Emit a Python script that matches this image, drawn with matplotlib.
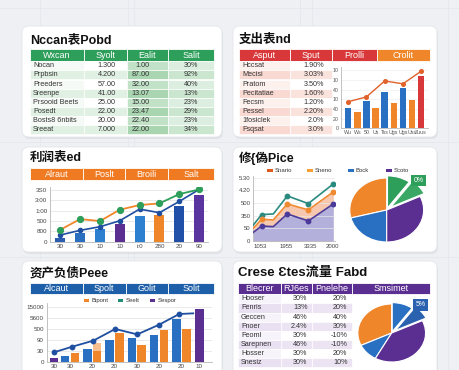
import matplotlib
matplotlib.use('Agg')
import matplotlib.pyplot as plt
from matplotlib.patches import FancyBboxPatch, Rectangle
import numpy as np

# 字体：拉丁字用 Liberation，中文回退到 Noto CJK
plt.rcParams['font.family'] = ['Liberation Sans', 'Noto Sans CJK SC', 'DejaVu Sans']

W, H = 460, 370

# ---------------- 数据 ----------------
# 面板1：绿色表格
t1_title = 'Nccan表Pobd'
t1_header = ['Wxcan', 'Syolt', 'Ealit', 'Salit']
t1_labels = ['Nocan', 'Prpbsin', 'Preeders', 'Sreenpe', 'Prsooid Beets', 'Posedt', 'Bosts8 6nbits', 'Sreeat']
t1_col2 = ['1.300', '4.200', '57.00', '41.00', '25.00', '22.00', '20.00', '7.000']
t1_col3 = ['1.00', '87.00', '32.00', '13.07', '15.00', '23.47', '22.40', '22.00']
t1_col4 = ['30%', '92%', '40%', '13%', '23%', '29%', '23%', '34%']

# 面板2：支出表
t2_title = '支出表nd'
t2_header = ['Asput', 'Sput', 'Prolli', 'Crolit']
t2_labels = ['Hccsat', 'Mecisi', 'Pratom', 'Pecitatiae', 'Fecsm', 'Pessel', '1fosiclek', 'Fsqsat']
t2_values = ['1.90%', '3.03%', '3.50%', '1.60%', '1.20%', '2.20%', '2.0%', '3.0%']
t2_xlabels = ['Wu', 'Ws', '50', 'Us', 'Tss', 'Ugs', 'Ugs', 'Uss', 'Zuus']
t2_bars = [43, 34, 57, 43, 76, 53, 84, 58, 109]
t2_line_idx = [0, 2, 4, 6, 8]
t2_line = [55, 65, 98, 92, 118]
t2_yticks = [0, 20, 40, 60, 80, 100, 120]
t2_ylabels = ['0', '20', '40', '10', '40', '10', '10']

# 面板3：利润表
t3_title = '利润表ed'
t3_header = ['Alraut', 'Poslt', 'Broili', 'Salt']
t3_xlabels = ['30', '30', '10', '10', 'i:0', '280', '20', '90']
t3_bars = [32, 81, 119, 174, 252, 255, 342, 448]
t3_line_blue = [65, 110, 145, 203, 316, 281, 390, 506]
t3_line_top = [116, 219, 200, 310, 355, 371, 461, 506]
t3_yticks = [0, 100, 200, 300, 400, 500]
t3_ylabels = ['0', '800', '500', '1:00', '3:00', '3S0']

# 面板4：面积图 + 饼图
t4_title = '修{偽Pice'
t4_legend = ['Snario', 'Sneno', 'Bock', 'Scoto']
t4_x = [0, 25, 60, 102, 165, 240]
t4_teal = [126, 208, 213, 355, 295, 450]
t4_orange = [100, 171, 166, 292, 245, 387]
t4_purple = [68, 118, 113, 213, 158, 292]
t4_xticks = [22, 100, 170, 236]
t4_xlabels = ['1053', '1955', '3335', '2000']
t4_yticks = [0, 100, 200, 300, 400, 500]
t4_ylabels = ['0', '50', '350', '500', '4.20', '5.30']
t4_pie = [29, 21, 32, 8, 10]
t4_pie_label = '0%'

# 面板5：资产负债
t5_title = '资产负债Peee'
t5_header = ['Alcaut', 'Spolt', 'Golit', 'Solit']
t5_legend = ['Bipont', 'Seelt', 'Sespor']
t5_blue = [55, 115, 197, 218, 239, 388]
t5_orange = [76, 100, 258, 148, 288, 297]
t5_orange_peak = [76, 173, 258, 148, 288, 297]
t5_purple = [30, 476]
t5_line_x = [-0.72, 0.1, 1.05, 2.03, 3.02, 4.0, 4.9, 5.53]
t5_line = [85, 136, 191, 297, 248, 336, 433, 439]
t5_xticks = [-0.72, 0, 1, 2, 3, 4, 5, 5.8]
t5_xlabels = ['30', '30', '20', '20', '30', '20', '20', '10']
t5_yticks = [0, 100, 200, 300, 400, 500]
t5_ylabels = ['0', '30', '90', '500', '5600', '15000']

# 面板6：现金流量
t6_title = 'Crese Ɛtes流量 Fabd'
t6_header = ['Blecrer', 'RJ6es', 'Pnelehe', 'Smsimet']
t6_labels = ['Hooser', 'Fenris', 'Geccen', 'Fnoer', 'Feoml', 'Sarepnen', 'Hosser', 'Snesiz']
t6_col2 = ['30%', '13%', '46%', '2.4%', '30%', '46%', '30%', '30%']
t6_col3 = ['20%', '20%', '40%', '30%', '-10%', '-10%', '20%', '10%']
t6_pie = [32, 10, 40, 8, 10]
t6_pie_label = '5%'

# 颜色
GREEN = '#2e9e5b'
RED = '#d8383a'
ORANGE = '#f0862a'
BLUE = '#2a70c2'
DBLUE = '#1f4fa0'
PURPLE = '#5b2e91'
TEAL = '#2a8a80'

fig = plt.figure(figsize=(4.6, 3.7), dpi=100)
fig.patch.set_facecolor('#eef0f3')

bg = fig.add_axes([0, 0, 1, 1])
bg.set_xlim(0, W)
bg.set_ylim(H, 0)
bg.axis('off')


def px_axes(x0, y0, x1, y1):
    # 像素坐标 -> figure 坐标
    return fig.add_axes([x0 / W, 1 - y1 / H, (x1 - x0) / W, (y1 - y0) / H])


# 背景上的淡线
for x in [40, 128, 134, 300, 312, 448]:
    bg.plot([x, x], [0, H], color='#e5e8ec', lw=0.7, zorder=0)
for y in [8, 142, 257]:
    bg.plot([0, W], [y, y], color='#e5e8ec', lw=0.7, zorder=0)


def card(x0, y0, x1, y1):
    bg.add_patch(FancyBboxPatch((x0 + 1, y0 + 2), x1 - x0, y1 - y0,
                                boxstyle='round,pad=0,rounding_size=7',
                                fc='#c3c7ce', ec='none', alpha=0.35, zorder=1))
    bg.add_patch(FancyBboxPatch((x0, y0), x1 - x0, y1 - y0,
                                boxstyle='round,pad=0,rounding_size=7',
                                fc='white', ec='#e4e6ea', lw=0.6, zorder=2))


def header(edges, y0, y1, labels, colors, fs=6.5):
    for i, lab in enumerate(labels):
        bg.add_patch(Rectangle((edges[i], y0), edges[i + 1] - edges[i], y1 - y0,
                               fc=colors[i], ec='white', lw=0.6, zorder=3))
        bg.text((edges[i] + edges[i + 1]) / 2, (y0 + y1) / 2 + 0.3, lab, color='white',
                fontsize=fs, ha='center', va='center', zorder=4)


def title(x, y, s, fs=9):
    bg.text(x, y, s, fontsize=fs, fontweight='bold', ha='left', va='center',
            color='#111111', zorder=4)


def cell(x0, x1, y0, h, color):
    bg.add_patch(Rectangle((x0, y0), x1 - x0, h, fc=color, ec='white', lw=0.5, zorder=3))


def txt(x, y, s, ha='left', fs=5.2):
    bg.text(x, y, s, fontsize=fs, ha=ha, va='center', color='#333333', zorder=4)


# ---------------- 卡片 ----------------
card(22, 26, 222, 137)
card(233, 26, 437, 137)
card(22, 147, 222, 252)
card(233, 147, 437, 252)
card(22, 261, 222, 385)
card(233, 261, 437, 385)

# ---------------- 面板1 ----------------
title(30, 40, t1_title)
e1 = [30, 84.3, 126.7, 168.3, 214]
header(e1, 48.7, 61.3, t1_header, [GREEN] * 4)
rh = 9.1
for i in range(len(t1_labels)):
    y0 = 61.3 + i * rh
    odd = i % 2 == 1
    cell(e1[0], e1[1], y0, rh, '#e0f0e3' if odd else '#f6faf6')
    cell(e1[1], e1[2], y0, rh, '#e0f0e3' if odd else '#ffffff')
    cell(e1[2], e1[3], y0, rh, '#a9d5b1' if odd else '#c2e2c8')
    cell(e1[3], e1[4], y0, rh, '#cbe6cf' if odd else '#dbeedf')
    yc = y0 + rh / 2
    txt(33, yc, t1_labels[i])
    txt(116, yc, t1_col2[i], ha='right')
    txt(150, yc, t1_col3[i], ha='right')
    txt(191, yc, t1_col4[i], ha='center')

# ---------------- 面板2 ----------------
title(239, 40, t2_title)
e2 = [239, 290, 331.7, 376.7, 430]
header(e2, 48.7, 61.3, t2_header, [RED, RED, RED, ORANGE])
for i in range(len(t2_labels)):
    y0 = 61.3 + i * rh
    odd = i % 2 == 1
    cell(e2[0], e2[1], y0, rh, '#f9d9d1' if odd else '#fdf1ee')
    cell(e2[1], e2[2], y0, rh, '#fbe3dd' if odd else '#ffffff')
    yc = y0 + rh / 2
    txt(242, yc, t2_labels[i])
    txt(324, yc, t2_values[i], ha='right')

ax2 = px_axes(341, 67, 428, 128.3)
x2 = np.arange(len(t2_bars))
c2 = [BLUE, ORANGE] * 4 + [RED]
ax2.bar(x2, t2_bars, width=0.7, color=c2, zorder=2)
ax2.plot(x2[t2_line_idx], t2_line, color='#e0612a', lw=1.0, marker='o', ms=2.6, zorder=3)
ax2.set_xlim(-0.8, 8.76)
ax2.set_ylim(0, 126.8)
ax2.set_yticks(t2_yticks)
ax2.set_yticklabels(t2_ylabels)
ax2.set_xticks(x2)
ax2.set_xticklabels(t2_xlabels)
ax2.tick_params(labelsize=3.8, length=0, pad=1.5, colors='#555555')
ax2.grid(axis='y', color='#eeeeee', lw=0.5, zorder=0)

# ---------------- 面板3 ----------------
title(30, 158, t3_title)
e3 = [30, 82.7, 125.3, 168.3, 214]
header(e3, 167.7, 180, t3_header, ['#ef7a22'] * 4)

ax3 = px_axes(50, 187, 208, 241.7)
x3 = np.arange(len(t3_bars))
c3 = ['#2a5db0', '#2a6ebf', '#2d80d0', PURPLE, '#2d80d0', ORANGE, '#2150a8', '#5a35a0']
ax3.bar(x3, t3_bars, width=0.5, color=c3, zorder=2)
ax3.plot(x3, t3_line_blue, color=DBLUE, lw=1.2, marker='o', ms=3, zorder=3)
ax3.plot(x3[:6], t3_line_top[:6], color=ORANGE, lw=1.3, zorder=3)
ax3.plot(x3[5:], t3_line_top[5:], color=GREEN, lw=1.3, zorder=3)
ax3.plot(x3, t3_line_top, color=GREEN, lw=0, marker='o', ms=4.2, zorder=4)
ax3.set_xlim(-0.52, 7.45)
ax3.set_ylim(0, 530)
ax3.set_yticks(t3_yticks)
ax3.set_yticklabels(t3_ylabels)
ax3.set_xticks(x3)
ax3.set_xticklabels(t3_xlabels)
ax3.tick_params(labelsize=4.5, length=0, pad=2, colors='#444444')
ax3.grid(axis='y', color='#e6e6e6', lw=0.6, zorder=0)

# ---------------- 面板4 ----------------
title(239, 158, t4_title)
leg4_x = [267, 307, 348, 386]
leg4_c = ['#e05a20', '#f5a030', BLUE, PURPLE]
for lx, lc, lab in zip(leg4_x, leg4_c, t4_legend):
    bg.add_patch(Rectangle((lx, 169.3), 6, 3, fc=lc, ec='none', zorder=4))
    txt(lx + 8, 170.8, lab, fs=4.3)

ax4 = px_axes(253.3, 176, 335, 241)
ax4.fill_between(t4_x, 0, t4_purple, color='#a7a3d6', alpha=0.85, lw=0, zorder=1)
ax4.fill_between(t4_x, t4_purple, t4_orange, color='#f5c2a8', alpha=0.9, lw=0, zorder=1)
ax4.plot(t4_x, t4_teal, color=TEAL, lw=1.2, marker='o', ms=3.2, markevery=[1, 3, 4, 5], zorder=3)
ax4.plot(t4_x, t4_orange, color='#f08a30', lw=1.2, marker='o', ms=3.2, markevery=[1, 3, 4, 5], zorder=3)
ax4.plot(t4_x, t4_purple, color='#4a3a9a', lw=1.2, marker='o', ms=3.2, markevery=[1, 3, 4, 5], zorder=3)
ax4.set_xlim(0, 245)
ax4.set_ylim(0, 512)
ax4.set_yticks(t4_yticks)
ax4.set_yticklabels(t4_ylabels)
ax4.set_xticks(t4_xticks)
ax4.set_xticklabels(t4_xlabels)
ax4.tick_params(labelsize=4.3, length=0, pad=2, colors='#444444')
ax4.grid(axis='y', color='#e8e8e8', lw=0.5, zorder=0)

axp4 = px_axes(386.7 - 48, 210 - 41.6, 386.7 + 48, 210 + 41.6)
axp4.pie(t4_pie, colors=[ORANGE, BLUE, PURPLE, '#3aa864', GREEN], startangle=90,
         explode=[0, 0, 0, 0.14, 0.07],
         wedgeprops=dict(edgecolor='white', linewidth=0.8))
axp4.set_aspect('auto')
axp4.set_xlim(-1.3, 1.3)
axp4.set_ylim(-1.3, 1.3)
axp4.text(0.87, 0.92, t4_pie_label, fontsize=5, color='white', ha='center', va='center',
          bbox=dict(boxstyle='square,pad=0.35', fc=GREEN, ec='none'))

# ---------------- 面板5 ----------------
title(30, 273, t5_title)
e5 = [30, 82.7, 125.7, 168.3, 214]
header(e5, 282.7, 294.3, t5_header, ['#1d5fa8'] * 4)
leg5_x = [84, 118, 150]
leg5_c = [ORANGE, '#1f8f7a', PURPLE]
for lx, lc, lab in zip(leg5_x, leg5_c, t5_legend):
    bg.add_patch(Rectangle((lx, 298.8), 5.5, 3.4, fc=lc, ec='none', zorder=4))
    txt(lx + 7.5, 300.5, lab, fs=4.3)

ax5 = px_axes(46.7, 303, 212, 361.7)
x5 = np.arange(len(t5_blue))
ax5.bar(x5 - 0.22, t5_blue, width=0.38, color=BLUE, zorder=2)
ax5.bar(x5 + 0.22, t5_orange_peak, width=0.38, color='#f7bf8e', zorder=2)
ax5.bar(x5 + 0.22, t5_orange, width=0.38, color=ORANGE, zorder=2)
ax5.bar([-0.72, 5.8], t5_purple, width=0.38, color=PURPLE, zorder=2)
ax5.plot(t5_line_x[:-1], t5_line[:-1], color=DBLUE, lw=1.3, marker='o', ms=3.2, zorder=3)
ax5.plot(t5_line_x[-2:], t5_line[-2:], color=DBLUE, lw=1.3, zorder=3)
ax5.set_xlim(-1.04, 6.37)
ax5.set_ylim(0, 533)
ax5.set_yticks(t5_yticks)
ax5.set_yticklabels(t5_ylabels)
ax5.set_xticks(t5_xticks)
ax5.set_xticklabels(t5_xlabels)
ax5.tick_params(labelsize=4.5, length=0, pad=2, colors='#444444')
ax5.grid(axis='y', color='#e6e6e6', lw=0.6, zorder=0)

# ---------------- 面板6 ----------------
title(238, 273, t6_title, fs=9.5)
e6 = [238, 280.7, 312.3, 351.7, 430]
header(e6, 282.7, 294.3, t6_header, [PURPLE] * 4)
for i in range(len(t6_labels)):
    y0 = 294.3 + i * rh
    odd = i % 2 == 1
    cell(e6[0], e6[1], y0, rh, '#e9e0f2' if odd else '#f7f3fa')
    cell(e6[1], e6[2], y0, rh, '#ece4f3' if odd else '#ffffff')
    cell(e6[2], e6[3], y0, rh, '#ece4f3' if odd else '#ffffff')
    yc = y0 + rh / 2
    txt(241, yc, t6_labels[i])
    txt(307.5, yc, t6_col2[i], ha='right')
    txt(347.5, yc, t6_col3[i], ha='right')

axp6 = px_axes(391.7 - 44, 333 - 37.7, 391.7 + 44, 333 + 37.7)
axp6.pie(t6_pie, colors=[ORANGE, BLUE, PURPLE, '#2a62b0', '#2a70c2'], startangle=90,
         explode=[0, 0, 0, 0.14, 0.05],
         wedgeprops=dict(edgecolor='white', linewidth=0.8))
axp6.set_aspect('auto')
axp6.set_xlim(-1.3, 1.3)
axp6.set_ylim(-1.3, 1.3)
axp6.text(0.86, 0.97, t6_pie_label, fontsize=5, color='white', ha='center', va='center',
          bbox=dict(boxstyle='square,pad=0.35', fc='#2a62b0', ec='none'))

for a in [ax2, ax3, ax4, ax5]:
    a.set_facecolor('none')
    for s in ['top', 'right']:
        a.spines[s].set_visible(False)
    for s in ['left', 'bottom']:
        a.spines[s].set_color('#b8b8b8')
        a.spines[s].set_linewidth(0.6)

fig.savefig('out.png', dpi=100, facecolor=fig.get_facecolor())
